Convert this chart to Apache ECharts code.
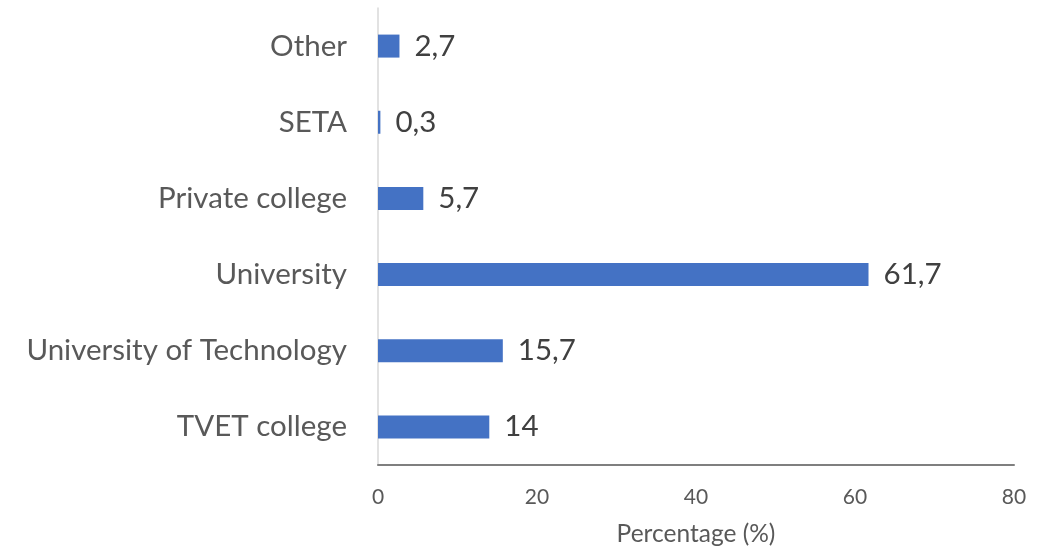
<!DOCTYPE html>
<html>
<head>
<meta charset="utf-8">
<script src="https://cdn.jsdelivr.net/npm/echarts@6/dist/echarts.min.js"></script>
<style>
  html, body { margin: 0; padding: 0; background: #fff; }
  #chart { width: 1040px; height: 547px; }
</style>
</head>
<body>
<div id="chart"></div>
<script>
// categories bottom -> top
const categories = ['TVET college', 'University of Technology', 'University', 'Private college', 'SETA', 'Other']
const percentages = [14, 15.7, 61.7, 5.7, 0.3, 2.7]
const xTicks = [0, 20, 40, 60, 80]

const chart = echarts.init(document.getElementById('chart'))

const option = {
  animation: false,
  grid: {
    left: 378,
    right: 26,
    top: 8,
    bottom: 82,
    outerBoundsMode: 'none'
  },
  xAxis: {
    type: 'value',
    min: xTicks[0],
    max: xTicks[xTicks.length - 1],
    interval: 20,
    name: 'Percentage (%)',
    nameLocation: 'middle',
    nameGap: 57,
    nameTextStyle: { fontFamily: 'Lato', fontSize: 24.5, color: '#595959' },
    axisLine: { show: true, lineStyle: { color: '#7f7f7f', width: 2 } },
    axisTick: { show: false },
    splitLine: { show: false },
    axisLabel: { margin: 22, fontFamily: 'Lato', fontSize: 21, color: '#595959' }
  },
  yAxis: {
    type: 'category',
    data: categories,
    axisLine: { show: true, lineStyle: { color: '#d9d9d9', width: 1.5 } },
    axisTick: { show: false },
    axisLabel: { margin: 31, fontFamily: 'Lato', fontSize: 29.5, color: '#595959' }
  },
  series: [{
    type: 'bar',
    data: percentages,
    barWidth: 23,
    itemStyle: { color: '#4472c4' },
    label: {
      show: true,
      position: 'right',
      distance: 15,
      fontFamily: 'Lato',
      fontSize: 29.5,
      color: '#404040',
      formatter: p => String(p.value).replace('.', ',')
    }
  }]
}

chart.setOption(option)
</script>
</body>
</html>
